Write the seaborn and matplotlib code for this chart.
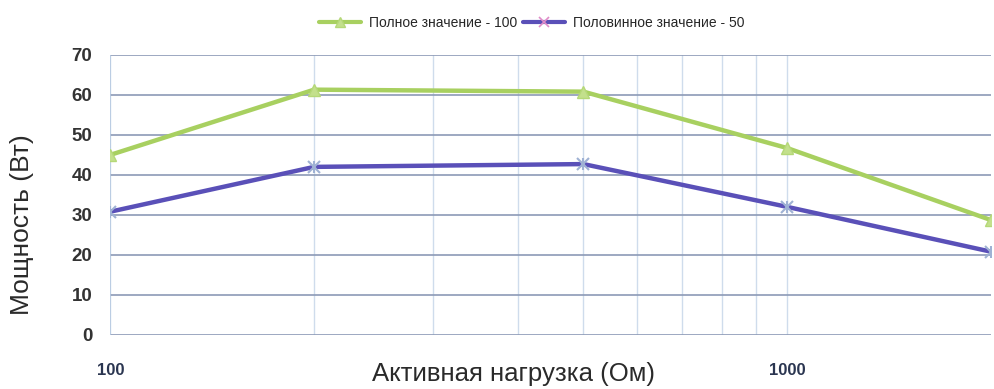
import numpy as np
import pandas as pd
import matplotlib
matplotlib.use("Agg")
import matplotlib.pyplot as plt
import matplotlib.ticker as mticker
import seaborn as sns

# data
load_ohm = [100, 200, 500, 1000, 2000]
power_full = [45.0, 61.3, 60.8, 46.7, 28.7]
power_half = [30.8, 42.0, 42.7, 32.0, 20.8]
series_names = ["Полное значение - 100", "Половинное значение - 50"]

df = pd.DataFrame({
    "load": load_ohm * 2,
    "power": power_full + power_half,
    "series": [series_names[0]] * len(load_ohm) + [series_names[1]] * len(load_ohm),
})

sns.set_theme(style="white")
plt.rcParams["font.family"] = ["Liberation Sans", "DejaVu Sans"]

fig = plt.figure(figsize=(9.94, 3.89), dpi=100)
ax = fig.add_axes([0.111, 0.139, 0.886, 0.72])

green = "#a8d060"
purple = "#5a50b8"

sns.lineplot(data=df, x="load", y="power", hue="series",
             palette={series_names[0]: green, series_names[1]: purple},
             linewidth=3.2, legend=False, ax=ax, zorder=3)

# markers drawn on top of the lines
ax.plot(load_ohm, power_full, linestyle="none", marker="^", markersize=9,
        color="#c3e08c", markeredgecolor="#b5d878", zorder=4)
ax.plot(load_ohm, power_half, linestyle="none", marker="x", markersize=9,
        color="#9fb2d4", markeredgewidth=1.5, zorder=4)
ax.plot(load_ohm, power_half, linestyle="none", marker="|", markersize=9,
        color="#9fb2d4", markeredgewidth=1.5, zorder=4)

ax.set_xscale("log")
ax.set_xlim(100, 2000)
ax.set_ylim(0, 70)
ax.set_yticks(np.arange(0, 71, 10))
ax.xaxis.set_major_locator(mticker.FixedLocator([100, 1000]))
ax.xaxis.set_major_formatter(mticker.FixedFormatter(["100", "1000"]))
ax.xaxis.set_minor_locator(mticker.FixedLocator([200, 300, 400, 500, 600, 700, 800, 900]))
ax.xaxis.set_minor_formatter(mticker.NullFormatter())

ax.grid(axis="y", which="major", color="#8c9ab6", linewidth=1.2)
ax.grid(axis="x", which="both", color="#cfdcec", linewidth=1.0)
ax.set_axisbelow(True)
for s in ax.spines.values():
    s.set_visible(False)
ax.axvline(100, color="#b8cbe2", linewidth=1.2, zorder=1)

ax.tick_params(axis="y", labelsize=13.5, colors="#333333", length=0, pad=13)
ax.tick_params(axis="x", which="both", length=0)
ax.tick_params(axis="x", labelsize=12, colors="#2a3550", pad=20)
for lab in ax.get_yticklabels() + ax.get_xticklabels():
    lab.set_fontweight("semibold")

ax.set_xlabel("Активная нагрузка (Ом)", fontsize=18.5, color="#2a2a2a", va="center")
ax.xaxis.set_label_coords(0.458, -0.14)
ax.set_ylabel("Мощность (Вт)", fontsize=19, color="#2a2a2a")
ax.yaxis.set_label_coords(-0.087, 0.395)

# legend on top
handles = [
    plt.Line2D([], [], color=green, linewidth=3, marker="^", markersize=7,
               markerfacecolor="#c3e08c", markeredgecolor="#b5d878"),
    plt.Line2D([], [], color=purple, linewidth=3, marker="x", markersize=7,
               markeredgecolor="#e08cc8", markeredgewidth=1.2),
]
fig.legend(handles, series_names, loc="center", bbox_to_anchor=(0.535, 0.94),
           ncol=2, frameon=False, fontsize=10, handlelength=3.0, columnspacing=0.4,
           handletextpad=0.6)

fig.savefig("out.png", dpi=100)
